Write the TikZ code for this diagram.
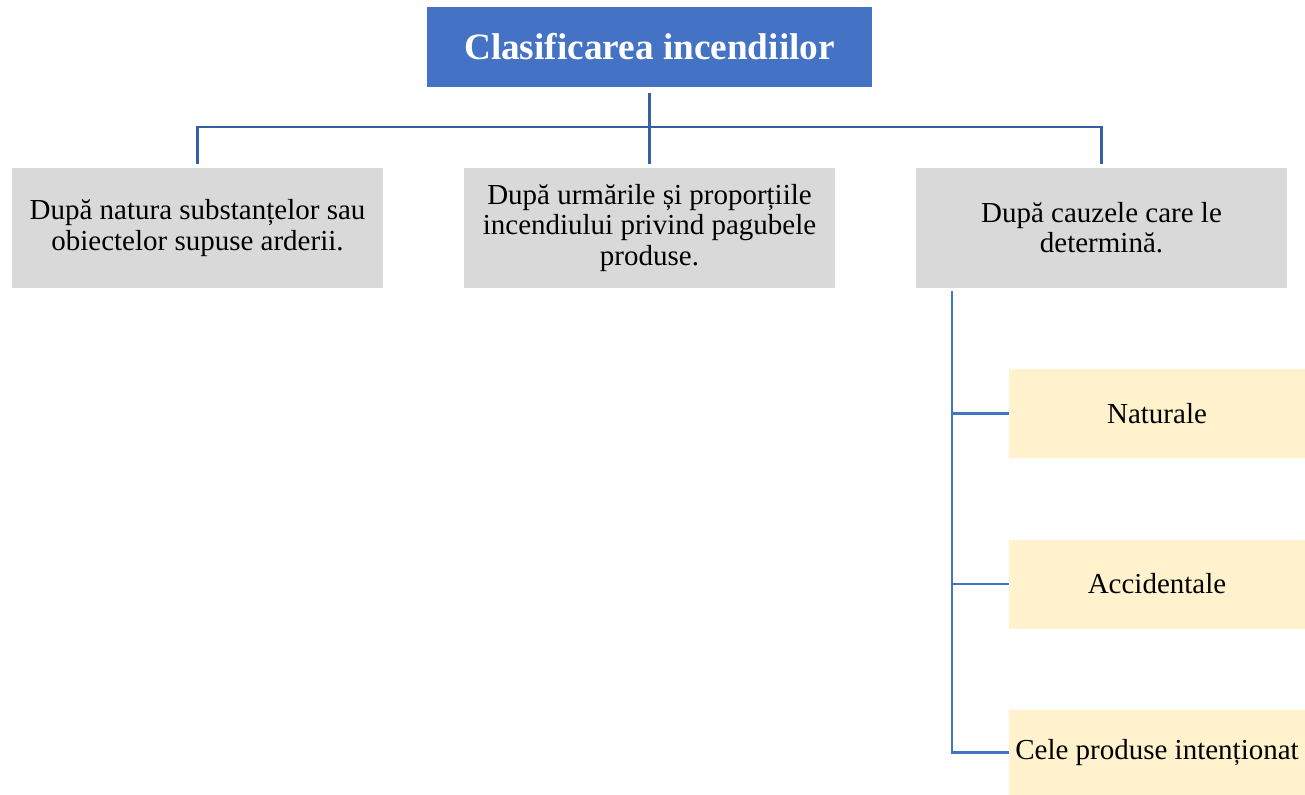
\documentclass[tikz,border=0pt]{standalone}
\usepackage{fontspec}
\setmainfont{Liberation Serif}
\usetikzlibrary{positioning,calc}
\definecolor{ctitlu}{HTML}{4472C4}
\definecolor{cgri}{HTML}{D9D9D9}
\definecolor{cgalben}{HTML}{FFF2CC}
\definecolor{clinie}{HTML}{3560A8}
\definecolor{clinieb}{HTML}{4472C4}
\tikzset{
  titlu/.style={fill=ctitlu,text=white,align=center,inner sep=0pt,
                font=\fontsize{21.2}{24}\selectfont\bfseries,
                minimum width=89mm,minimum height=16mm},
  criteriu/.style={fill=cgri,align=center,inner sep=0pt,
                   font=\fontsize{16.5}{17.2}\selectfont,
                   minimum width=74.2mm,minimum height=24mm},
  cauza/.style={criteriu,fill=cgalben,minimum width=59.2mm,minimum height=17.8mm},
  linie/.style={draw=clinie,line width=1.3pt},
  linieb/.style={draw=clinieb,line width=1.3pt},
}

\begin{document}
\begin{tikzpicture}[x=0.2mm,y=-0.2mm]
\useasboundingbox (0,0) rectangle (1305,795);

% ---------------- titlu ----------------
\node[titlu] (t) at (649.5,47) {Clasificarea incendiilor};

% ---------------- criterii ----------------
\node[criteriu] (c1) at (197.5,228) {După natura substanțelor sau\\obiectelor supuse arderii.};
\node[criteriu] (c2) at (649.5,228) {După urmările și proporțiile\\incendiului privind pagubele\\produse.};
\node[criteriu] (c3) at (1101.5,228) {După cauzele care le\\determină.};

\coordinate (bara) at (649.5,127);
\draw[linie,shorten <=3pt] (t.south) -- (bara);
\draw[linie,shorten >=2pt] (bara) -| (c1.north);
\draw[linie,shorten >=2pt] (bara) -- (c2.north);
\draw[linie,shorten >=2pt] (bara) -| (c3.north);

% ---------------- cauze ----------------
\node[cauza] (k1) at (1157,413.5) {Naturale};
\node[cauza] (k2) at (1157,584)   {Accidentale};
\node[cauza,minimum height=17mm] (k3) at (1157,752.5) {Cele produse intenționat};

\coordinate (tronc) at (952,291);
\draw[linieb] (tronc) |- (k3.west);
\draw[linieb] (tronc |- k1.west) -- (k1.west);
\draw[linieb] (tronc |- k2.west) -- (k2.west);

\end{tikzpicture}
\end{document}
